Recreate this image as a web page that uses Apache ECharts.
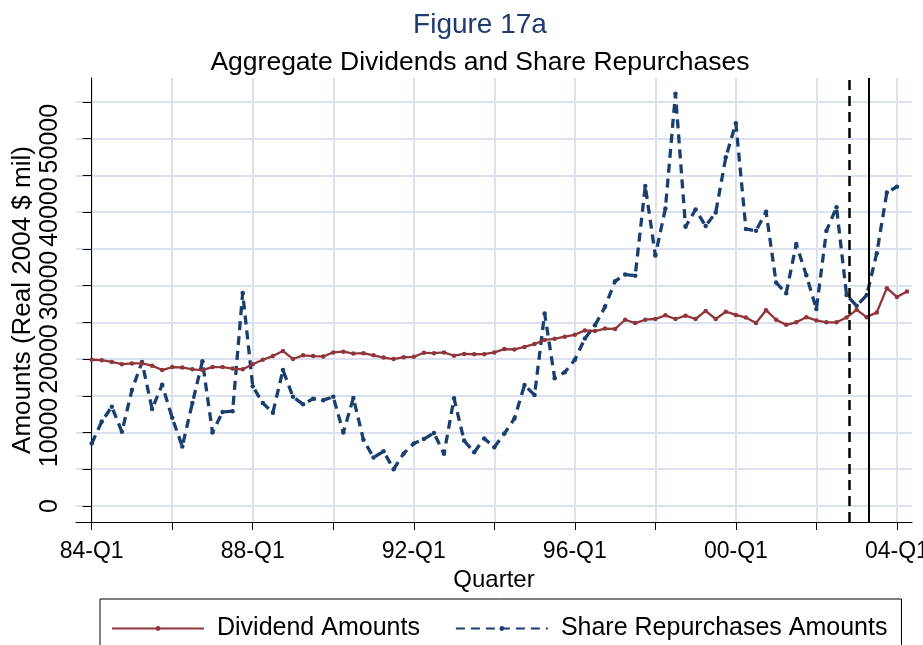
<!DOCTYPE html>
<html>
<head>
<meta charset="utf-8">
<script src="https://cdn.jsdelivr.net/npm/echarts@6/dist/echarts.min.js"></script>
<style>
  html, body { margin: 0; padding: 0; background: #fff; }
  #chart { width: 923px; height: 645px; }
</style>
</head>
<body>
<div id="chart"></div>
<script>
// quarterly series, 84-Q1 onwards (index 0 = 84-Q1)
const dividends = [
  19900, 19850, 19600, 19300, 19400, 19400, 19100, 18500, 18900, 18850,
  18600, 18500, 18900, 18900, 18700, 18600, 19300, 19900, 20400, 21100,
  20000, 20500, 20400, 20350, 20900, 21000, 20750, 20800, 20500, 20200,
  20000, 20250, 20300, 20850, 20800, 20900, 20450, 20700, 20650, 20660,
  20900, 21350, 21300, 21650, 22050, 22600, 22750, 23050, 23300, 23900,
  23800, 24150, 24100, 25350, 24900, 25350, 25450, 25950, 25450, 25900,
  25450, 26550, 25450, 26450, 26000, 25650, 24900, 26650, 25350, 24650,
  25000, 25700, 25250, 25000, 25000, 25650, 26700, 25700, 26350, 29650,
  28450, 29200
]
const repurchases = [
  8500, 11500, 13500, 10100, 15800, 19600, 13200, 16500, 12000, 8100,
  14000, 19700, 10000, 12800, 12900, 29000, 16300, 14000, 12700, 18500,
  14850, 13850, 14600, 14400, 14850, 10000, 14700, 9000, 6600, 7450,
  5000, 7150, 8500, 9100, 9950, 7100, 14650, 8900, 7300, 9200,
  8000, 9850, 11900, 16450, 15100, 26200, 17400, 18200, 19900, 22800,
  24600, 27100, 30600, 31500, 31350, 43550, 34100, 40500, 56100, 38000,
  40350, 38100, 39950, 47450, 52100, 37700, 37450, 40050, 30400, 28950,
  35650, 31400, 26800, 37450, 40650, 28700, 27250, 28700, 34400, 42650,
  43450
]
const xTickLabels = ['84-Q1', '88-Q1', '92-Q1', '96-Q1', '00-Q1', '04-Q1']
const xTicks = [0, 8, 16, 24, 32, 40, 48, 56, 64, 72, 80]
const xLabelTicks = [0, 16, 32, 48, 64, 80]
const yTicks = [0, 5000, 10000, 15000, 20000, 25000, 30000, 35000, 40000, 45000, 50000, 55000]
const yLabelTicks = [0, 10000, 20000, 30000, 40000, 50000]
const dashedLineAt = 75.25 // late 02-Q4
const solidLineAt = 77.25 // late 03-Q2

const font = 'Liberation Sans, Arial, Helvetica, sans-serif'
const gridColor = '#dce2ed'

const chart = echarts.init(document.getElementById('chart'))

const option = {
  backgroundColor: '#fff',
  animation: false,
  textStyle: { fontFamily: font },
  title: [
    {
      text: 'Figure 17a',
      left: 475,
      top: 6,
      textAlign: 'center',
      textStyle: { fontSize: 28, fontWeight: 'normal', color: '#1f3a6e', fontFamily: font }
    },
    {
      text: 'Aggregate Dividends and Share Repurchases',
      left: 475,
      top: 44,
      textAlign: 'center',
      textStyle: { fontSize: 26.5, fontWeight: 'normal', color: '#000', fontFamily: font }
    }
  ],
  grid: { left: 76, right: 11, top: 78, bottom: 123, outerBoundsMode: 'none' },
  xAxis: {
    type: 'value',
    min: -1.56,
    max: 81.5,
    name: 'Quarter',
    nameLocation: 'middle',
    nameGap: 44,
    nameTextStyle: { fontSize: 24, color: '#000', fontFamily: font },
    axisLine: { show: true, onZero: false, lineStyle: { color: '#000', width: 1 } },
    axisTick: { show: true, length: 8, customValues: xTicks, lineStyle: { color: '#000' } },
    axisLabel: {
      customValues: xLabelTicks,
      fontSize: 23,
      color: '#000',
      margin: 18,
      formatter: (v) => xTickLabels[Math.round(v / 16)]
    },
    splitLine: { show: true, lineStyle: { color: gridColor, width: 2 } }
  },
  yAxis: {
    type: 'value',
    min: -2180,
    max: 58250,
    name: 'Amounts (Real 2004 $ mil)',
    nameLocation: 'middle',
    nameRotate: 90,
    nameGap: 40,
    nameMoveOverlap: false,
    nameTextStyle: { fontSize: 26, color: '#000', fontFamily: font },
    axisLine: { show: true, lineStyle: { color: '#000', width: 1 } },
    axisTick: { show: true, length: 9, customValues: yTicks, lineStyle: { color: '#000' } },
    axisLabel: {
      customValues: yLabelTicks,
      rotate: 90,
      fontSize: 25,
      color: '#000',
      margin: 13,
      formatter: (v) => String(v)
    },
    splitLine: { show: true, lineStyle: { color: gridColor, width: 2 } }
  },
  legend: {
    left: 100,
    top: 599,
    padding: [17, 14, 30, 11],
    itemWidth: 92,
    itemHeight: 6,
    itemGap: 35,
    borderColor: '#000',
    borderWidth: 1,
    textStyle: { fontSize: 25, color: '#000', padding: [0, 0, 0, 8], fontFamily: font },
    data: ['Dividend Amounts', 'Share Repurchases Amounts']
  },
  series: [
    {
      name: 'Dividend Amounts',
      type: 'line',
      data: dividends.map((v, i) => [i, v]),
      symbol: 'circle',
      symbolSize: 4.5,
      itemStyle: { color: '#90353b' },
      lineStyle: { color: '#90353b', width: 2.3 },
      z: 3
    },
    {
      name: 'Share Repurchases Amounts',
      type: 'line',
      data: repurchases.map((v, i) => [i, v]),
      symbol: 'circle',
      symbolSize: 4.5,
      itemStyle: { color: '#1a3f6f' },
      lineStyle: { color: '#1a3f6f', width: 3.3, type: [9, 6] },
      z: 2,
      markLine: {
        silent: true,
        symbol: 'none',
        label: { show: false },
        data: [
          { xAxis: dashedLineAt, lineStyle: { color: '#000', width: 2.5, type: [10, 6] } },
          { xAxis: solidLineAt, lineStyle: { color: '#000', width: 2, type: 'solid' } }
        ]
      }
    }
  ]
}

chart.setOption(option)
</script>
</body>
</html>
